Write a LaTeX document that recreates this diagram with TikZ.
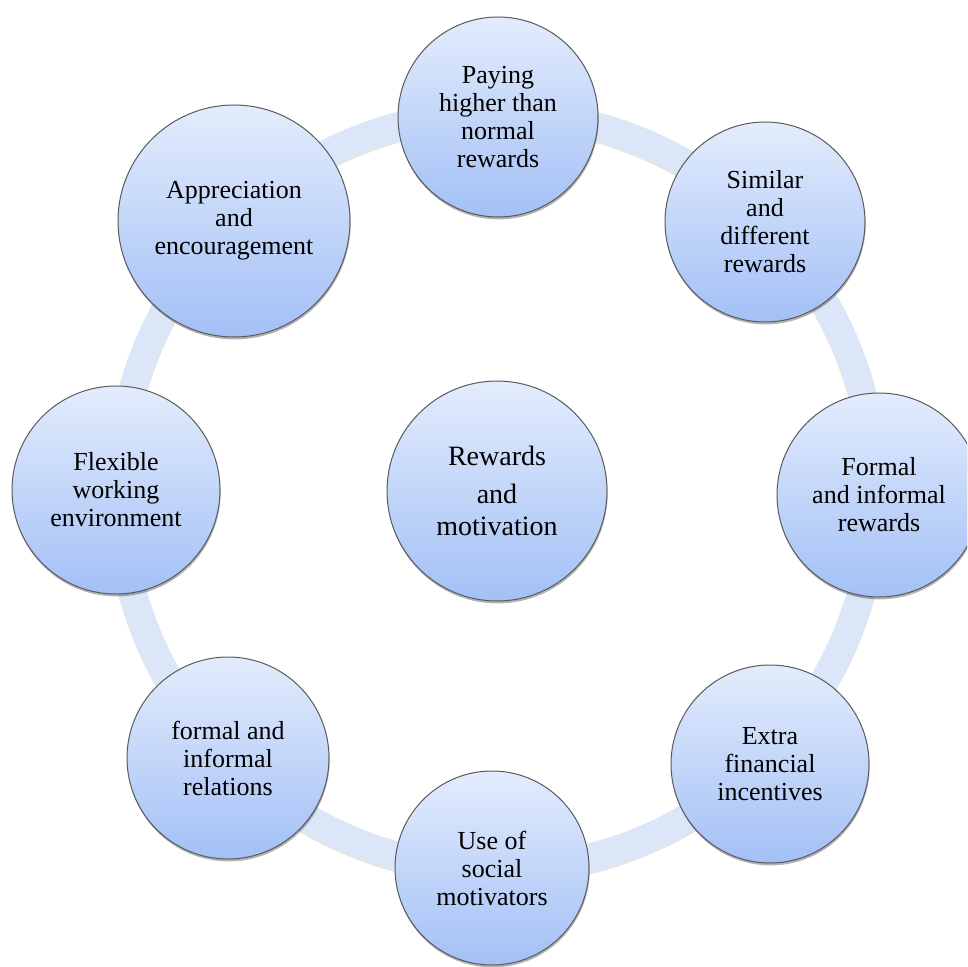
\documentclass[tikz,border=0pt]{standalone}
\usepackage{fontspec}
\setmainfont{Liberation Serif}
\usetikzlibrary{shadows}
\definecolor{ringblue}{HTML}{DCE6F9}
\definecolor{bubtop}{HTML}{E3ECFC}
\definecolor{bubbot}{HTML}{A3C0F6}
\definecolor{rimgray}{HTML}{5A5A5A}
\tikzset{
  bubble/.style={circle, draw=rimgray, line width=0.5pt,
    top color=bubtop, bottom color=bubbot, align=center, inner sep=0pt,
    font=\fontsize{13}{14}\selectfont,
    drop shadow={shadow xshift=0.3pt, shadow yshift=-1.2pt, opacity=0.3, fill=black}},
  ringband/.style={line width=14pt, draw=ringblue},
  ringshade/.style={line width=14pt, draw=black, opacity=0.10},
}
\begin{document}
\begin{tikzpicture}[x=0.5pt,y=-0.5pt]
\useasboundingbox (0,0) rectangle (967,967);
\clip (0,0) rectangle (967,967);

% the ring joining the outer bubbles
\coordinate (hub) at (497,491);
\draw[ringshade] ([yshift=-1.2pt]hub) circle [radius=189pt];
\draw[ringband] (hub) circle [radius=189pt];

% outer bubbles, clockwise from the top
\node[bubble, minimum size=100pt] (pay) at (498,117) {Paying\\higher than\\normal\\rewards};
\node[bubble, minimum size=100pt] (sim) at (765,222) {Similar\\and\\different\\rewards};
\node[bubble, minimum size=102pt] (frw) at (879,495) {Formal\\and informal\\rewards};
\node[bubble, minimum size=99pt] (ext) at (770,764) {Extra\\financial\\incentives};
\node[bubble, minimum size=97pt] (soc) at (492,868) {Use of\\social\\motivators};
\node[bubble, minimum size=101pt] (rel) at (228,758) {formal and\\informal\\relations};
\node[bubble, minimum size=104pt] (flx) at (116,490) {Flexible\\working\\environment};
\node[bubble, minimum size=116pt] (app) at (234,221) {Appreciation\\and\\encouragement};

% central bubble
\node[bubble, minimum size=110pt, font=\fontsize{14}{16}\selectfont] (core) at (hub) {Rewards\\[3pt]and\\motivation};
\end{tikzpicture}
\end{document}
